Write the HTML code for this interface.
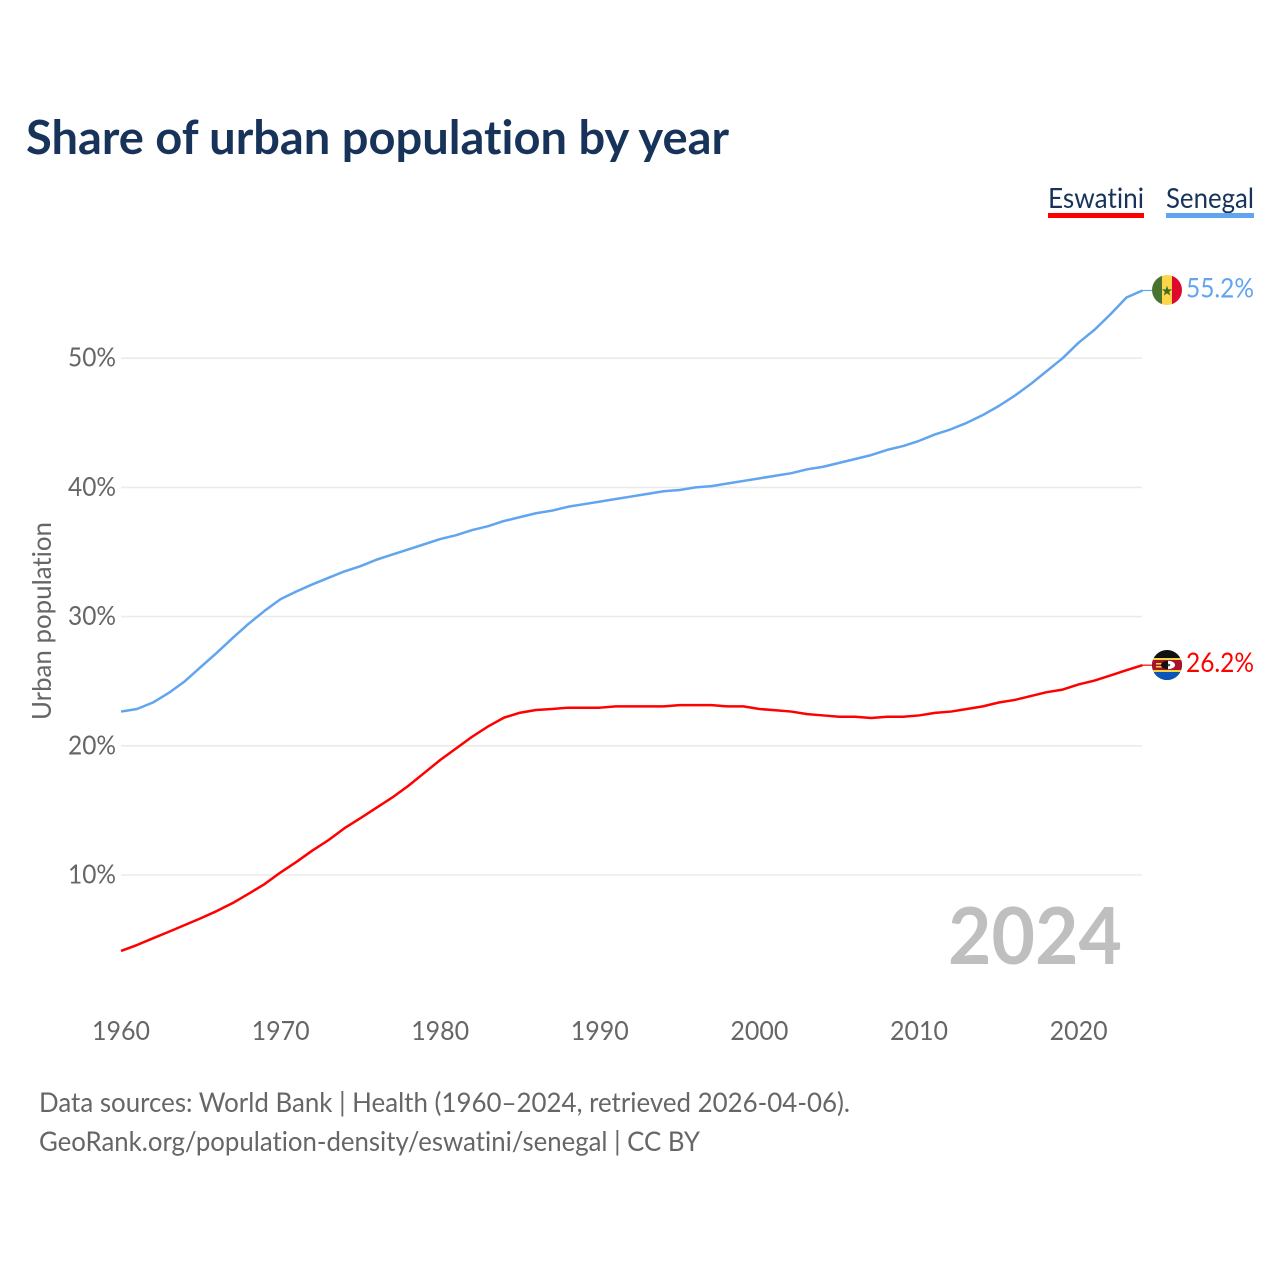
<!DOCTYPE html>
<html lang="en">
<head>
<meta charset="utf-8">
<title>Share of urban population by year</title>
<style>
html,body{margin:0;padding:0;background:#fff;}
svg{display:block;}
text{font-family:"Lato","Carlito","Liberation Sans",sans-serif;font-variant-ligatures:none;font-feature-settings:"liga" 0,"clig" 0;}
</style>
</head>
<body>
<svg id="chart" xmlns="http://www.w3.org/2000/svg" width="1280" height="1280" viewBox="0 0 1280 1280">
  <defs>
    <clipPath id="flag-clip-sn"><circle cx="1167" cy="290" r="15"/></clipPath>
    <clipPath id="flag-clip-sz"><circle cx="1167" cy="665" r="15"/></clipPath>
  </defs>
  <rect width="1280" height="1280" fill="#fff"/>
  <text x="26" y="154" font-size="47" font-weight="700" fill="#18335a" textLength="703" lengthAdjust="spacingAndGlyphs">Share of urban population by year</text>

  <g>
    <text x="1048" y="208" font-size="28" fill="#18335a" textLength="96" lengthAdjust="spacingAndGlyphs">Eswatini</text>
    <rect x="1048" y="213" width="96" height="5" fill="#ff0000"/>
  </g>
  <g>
    <text x="1166" y="208" font-size="28" fill="#18335a" textLength="88" lengthAdjust="spacingAndGlyphs">Senegal</text>
    <rect x="1166" y="213" width="88" height="5" fill="#60a5ee"/>
  </g>

  <g id="grid"></g>
  <g id="yticks"></g>
  <g id="xticks"></g>

  <text transform="translate(51,720) rotate(-90)" font-size="26" fill="#666" textLength="198" lengthAdjust="spacingAndGlyphs">Urban population</text>

  <text x="948" y="964" font-size="79" font-weight="700" fill="#bfbfbf" textLength="174" lengthAdjust="spacingAndGlyphs">2024</text>

  <g id="series"></g>

  <g clip-path="url(#flag-clip-sn)">
    <rect x="1152" y="275" width="10" height="30" fill="#4b7330"/>
    <rect x="1162" y="275" width="10" height="30" fill="#fcd648"/>
    <rect x="1172" y="275" width="10" height="30" fill="#dd0a2b"/>
    <polygon points="1167,285.7 1168.3,289.4 1172.2,289.4 1169.1,291.8 1170.2,295.5 1167,293.3 1163.8,295.5 1164.9,291.8 1161.8,289.4 1165.7,289.4" fill="#3f6a2a"/>
  </g>
  <g clip-path="url(#flag-clip-sz)">
    <rect x="1152" y="650" width="30" height="30" fill="#111"/>
    <rect x="1152" y="672" width="30" height="9" fill="#0a56b8"/>
    <rect x="1152" y="658" width="30" height="2" fill="#f4d53f"/>
    <rect x="1152" y="660" width="30" height="10" fill="#a8122a"/>
    <rect x="1152" y="670" width="30" height="2" fill="#f4d53f"/>
    <rect x="1156" y="663" width="6" height="1.5" fill="#f4d53f"/>
    <rect x="1156" y="666" width="6" height="1.5" fill="#f4d53f"/>
    <ellipse cx="1168" cy="665" rx="7" ry="4.2" fill="#111"/>
    <path d="M1168 660.8 A7 4.2 0 0 1 1168 669.2 Z" fill="#fff"/>
    <circle cx="1169" cy="665" r="1.3" fill="#555"/>
  </g>

  <text x="39" y="1112" font-size="27" fill="#666" textLength="811" lengthAdjust="spacingAndGlyphs">Data sources: World Bank | Health (1960–2024, retrieved 2026-04-06).</text>
  <text x="39" y="1151" font-size="27" fill="#666" textLength="661" lengthAdjust="spacingAndGlyphs">GeoRank.org/population-density/eswatini/senegal | CC BY</text>
</svg>
<script>
const years = [1960,1961,1962,1963,1964,1965,1966,1967,1968,1969,1970,1971,1972,1973,1974,1975,1976,1977,1978,1979,1980,1981,1982,1983,1984,1985,1986,1987,1988,1989,1990,1991,1992,1993,1994,1995,1996,1997,1998,1999,2000,2001,2002,2003,2004,2005,2006,2007,2008,2009,2010,2011,2012,2013,2014,2015,2016,2017,2018,2019,2020,2021,2022,2023,2024];
const senegalValues = [22.65,22.85,23.35,24.1,25.0,26.1,27.2,28.35,29.45,30.45,31.35,31.95,32.5,33.0,33.5,33.9,34.4,34.8,35.2,35.6,36.0,36.3,36.7,37.0,37.4,37.7,38.0,38.2,38.5,38.7,38.9,39.1,39.3,39.5,39.7,39.8,40.0,40.1,40.3,40.5,40.7,40.9,41.1,41.4,41.6,41.9,42.2,42.5,42.9,43.2,43.6,44.1,44.5,45.0,45.6,46.3,47.1,48.0,49.0,50.0,51.2,52.2,53.4,54.7,55.24];
const eswatiniValues = [4.12,4.58,5.1,5.61,6.13,6.65,7.21,7.83,8.55,9.3,10.2,11.02,11.9,12.7,13.62,14.4,15.2,16.0,16.9,17.9,18.9,19.8,20.7,21.5,22.18,22.56,22.77,22.85,22.95,22.95,22.95,23.05,23.05,23.05,23.05,23.15,23.15,23.15,23.05,23.05,22.85,22.75,22.65,22.45,22.35,22.25,22.25,22.15,22.25,22.25,22.35,22.55,22.65,22.85,23.05,23.35,23.55,23.85,24.15,24.35,24.75,25.05,25.45,25.85,26.24];
const yTickValues = [10,20,30,40,50];
const xTickValues = [1960,1970,1980,1990,2000,2010,2020];

const NS = 'http://www.w3.org/2000/svg';
const xScale = function (year) { return 121 + (year - 1960) * 15.96; };
const yScale = function (value) { return 1004.2 - value * 12.92; };
const make = function (tag, parent) {
  const node = document.createElementNS(NS, tag);
  parent.appendChild(node);
  return node;
};

const gridGroup = document.getElementById('grid');
const yTickGroup = document.getElementById('yticks');
yTickValues.forEach(function (value) {
  const gridLine = make('line', gridGroup);
  
  
  gridLine.setAttribute('x1', 121);
  gridLine.setAttribute('x2', 1142);
  gridLine.setAttribute('y1', yScale(value));
  gridLine.setAttribute('y2', yScale(value));
  gridLine.setAttribute('stroke', '#ebebeb');
  gridLine.setAttribute('stroke-width', '1.6');
  const label = make('text', yTickGroup);
  
  
  label.setAttribute('x', 116);
  label.setAttribute('y', yScale(value) + 8.5);
  label.setAttribute('text-anchor', 'end');
  label.setAttribute('font-size', '26');
  label.setAttribute('fill', '#666');
  label.setAttribute('textLength', '48');
  label.setAttribute('lengthAdjust', 'spacingAndGlyphs');
  label.textContent = value + '%';
});

const xTickGroup = document.getElementById('xticks');
xTickValues.forEach(function (year) {
  const label = make('text', xTickGroup);
  
  
  label.setAttribute('x', xScale(year));
  label.setAttribute('y', 1040);
  label.setAttribute('text-anchor', 'middle');
  label.setAttribute('font-size', '26');
  label.setAttribute('fill', '#666');
  label.setAttribute('textLength', '58');
  label.setAttribute('lengthAdjust', 'spacingAndGlyphs');
  label.textContent = String(year);
});

const seriesGroup = document.getElementById('series');
const drawSeries = function (values, color, lineName, leaderName, valueName) {
  const line = make('polyline', seriesGroup);
  
  
  line.setAttribute('points', values.map(function (v, i) {
    return xScale(years[i]).toFixed(2) + ',' + yScale(v).toFixed(2);
  }).join(' '));
  line.setAttribute('fill', 'none');
  line.setAttribute('stroke', color);
  line.setAttribute('stroke-width', '2.5');
  line.setAttribute('stroke-linejoin', 'round');
  const lastValue = values[values.length - 1];
  const lastY = yScale(lastValue);
  const leader = make('line', seriesGroup);
  
  
  leader.setAttribute('x1', xScale(years[years.length - 1]));
  leader.setAttribute('x2', 1153);
  leader.setAttribute('y1', lastY);
  leader.setAttribute('y2', lastY);
  leader.setAttribute('stroke', color);
  leader.setAttribute('stroke-width', '1.2');
  const valueLabel = make('text', seriesGroup);
  
  
  valueLabel.setAttribute('x', 1186);
  valueLabel.setAttribute('y', lastY + 7);
  valueLabel.setAttribute('font-size', '27');
  valueLabel.setAttribute('fill', color);
  valueLabel.setAttribute('textLength', '68');
  valueLabel.setAttribute('lengthAdjust', 'spacingAndGlyphs');
  valueLabel.textContent = lastValue.toFixed(1) + '%';
};
drawSeries(senegalValues, '#60a5ee', 'senegal-line', 'senegal-leader-line', 'senegal-end-value');
drawSeries(eswatiniValues, '#ff0000', 'eswatini-line', 'eswatini-leader-line', 'eswatini-end-value');
</script>
</body>
</html>
